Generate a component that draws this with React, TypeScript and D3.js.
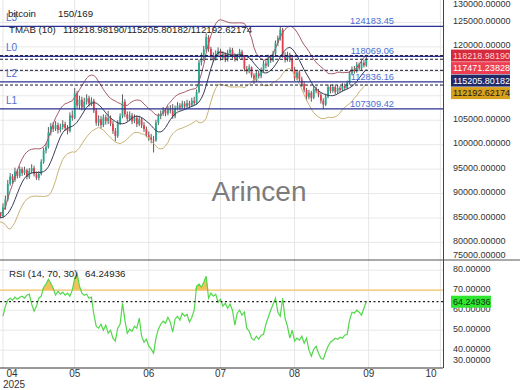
import React from "react";
import * as d3 from "d3";

// Daily bitcoin candles. Warm-up days (Mar 20-31) only feed the indicator.
const warmupClose = [84500, 85200, 84300, 83900, 84800, 85600, 84900, 85300, 84600, 85100, 85900, 85400];
const warmupHigh = [85600, 85900, 85500, 84800, 85300, 86300, 85900, 85800, 85400, 85700, 86600, 86200];
const warmupLow = [83800, 84100, 83700, 83200, 83600, 84500, 84400, 84500, 84000, 84200, 84800, 85000];

// Apr 1 .. Aug 31
const closes = [
    87200, 88800, 92000, 93500, 92800, 94500, 93600, 95000, 94200, 94800,
    93400, 94600, 95200, 94000, 93200, 94000, 96500, 98800, 99500, 102500,
    103800, 103200, 104000, 103000, 103600, 104200, 103400, 102800, 106000, 105500,
    110500, 108000, 109200, 107600, 108800, 109500, 108400, 109000, 107000, 104500,
    105200, 104000, 105600, 104800, 105500, 104300, 102800, 101800, 104500, 105800,
    108800, 106200, 105300, 106000, 104800, 105500, 104200, 105200, 104000, 103200,
    102000, 101500, 101000, 100900, 104500, 105800, 106300, 107000, 106400, 107200,
    107000, 105800, 107500, 108000, 107600, 108400, 107800, 108500, 108000, 109000,
    108500, 110800, 116800, 117500, 119500, 122000, 119600, 118000, 117600, 118600,
    119200, 117800, 118500, 117400, 118800, 119400, 118200, 117600, 118000, 119000,
    118000, 115500, 115000, 115800, 114200, 113200, 114600, 114000, 115200, 116600,
    116200, 117800, 117200, 118600, 120800, 121800, 123500, 118200, 117400, 118400,
    117600, 115400, 113600, 114800, 113400, 112400, 111200, 109800, 110600, 109600,
    111400, 111000, 110200, 109000, 108200, 109800, 111800, 111000, 111800, 110800,
    111600, 111200, 112000, 111600, 112600, 114600, 115400, 115000, 116400, 115600,
    116800, 116200, 117471.24,
];

const highs = [
    88000, 89600, 92800, 94200, 94000, 95300, 95000, 95600, 95400, 95500,
    95100, 95200, 96000, 95700, 94500, 94600, 97000, 99400, 100300, 103600,
    104400, 104600, 104800, 104500, 104300, 105000, 104700, 104000, 106600, 107000,
    111600, 111000, 110000, 109800, 109600, 110300, 110000, 109700, 109400, 107500,
    106000, 105900, 106200, 106100, 106900, 106000, 104900, 103400, 105000, 106400,
    110300, 109300, 106800, 106800, 106500, 106200, 106000, 105900, 105600, 104600,
    103700, 102700, 102200, 101800, 105100, 106400, 107000, 107700, 107500, 107900,
    108100, 108300, 108000, 108700, 108500, 109000, 108900, 109200, 109000, 109600,
    109800, 111300, 117400, 118800, 120200, 122800, 122400, 120000, 118900, 119300,
    119900, 119600, 119100, 118900, 119400, 119900, 119800, 118700, 118600, 119600,
    119400, 118300, 116100, 116400, 116000, 114600, 115100, 115200, 115800, 117200,
    117100, 118400, 118300, 119200, 121300, 122300, 124183.45, 123900, 118900, 119000,
    118800, 118000, 115900, 115300, 115200, 113900, 112900, 111600, 111200, 111000,
    112000, 111900, 111400, 110600, 109500, 110400, 112300, 112200, 112400, 112100,
    112200, 112000, 112600, 112500, 113100, 115100, 116000, 116100, 116900, 116800,
    117300, 117400, 117900,
];

const lows = [
    85000, 86700, 88400, 91600, 92000, 92400, 93100, 93200, 93600, 93800,
    92900, 93000, 94100, 93500, 92800, 92700, 93700, 96100, 98200, 99200,
    101900, 102600, 102800, 102300, 102500, 103100, 102800, 102100, 102500, 104900,
    105200, 107400, 107200, 107000, 107000, 108200, 107800, 107900, 106500, 103900,
    103800, 103300, 103600, 104100, 104200, 103800, 102200, 100700, 101400, 104000,
    105400, 105600, 104700, 104800, 104200, 104400, 103600, 103800, 103400, 102600,
    101500, 100800, 100300, 98400, 100600, 104000, 105200, 105900, 105800, 106000,
    106400, 105300, 105400, 107000, 107000, 107200, 107300, 107400, 107500, 107700,
    108000, 108200, 110500, 116200, 117100, 119000, 119000, 117200, 116900, 117200,
    118000, 117200, 117300, 116900, 117000, 118300, 117600, 117000, 117100, 117600,
    117400, 115000, 114400, 114600, 113700, 112400, 112800, 113500, 113600, 114800,
    115600, 115900, 116700, 116900, 118200, 120200, 121300, 117800, 116800, 117000,
    116900, 114900, 113000, 113200, 112900, 111800, 110700, 109000, 109300, 108800,
    109300, 110500, 109700, 108400, 107309.42, 107900, 109500, 110500, 110600, 110300,
    110400, 110700, 110900, 111100, 111300, 112300, 114200, 114500, 114700, 115100,
    115300, 115800, 115900,
];

const rsiValues = [
    57, 62, 65, 66, 65, 66.5, 65.5, 66.5, 67, 66,
    67.5, 68, 63, 59.5, 62, 66, 67, 71.5, 73, 75.5,
    73.5, 71, 67.5, 69.5, 68, 69, 67.5, 68.5, 67, 70,
    76, 78.5, 72, 68.5, 67.5, 68, 66, 66.5, 58, 52,
    51, 53, 50, 52.5, 48.5, 50, 46, 44.5, 51, 53,
    63.5, 55, 48.5, 50.5, 49.5, 52, 51, 56, 47, 44,
    45.5, 42, 40.5, 38.5, 46, 50.5, 53, 54.5, 53.5, 56.5,
    54, 49, 55.5, 57, 55, 58.5, 57, 58, 54, 56.5,
    60, 72, 73, 71.5, 74, 77, 66, 68.5, 67, 68,
    64, 65.5, 62, 63.5, 61, 63, 60, 52.5, 58.5, 60,
    57.5, 59, 51, 49.5, 46, 45, 47, 45.5, 47.5, 48,
    53, 56.5, 60, 63, 66, 59, 57, 66, 56, 52,
    46, 50, 44.5, 46, 45, 47, 43.5, 46, 40, 37,
    40.5, 42, 38.5, 36, 35.5, 39, 42, 44, 45, 46,
    45.5, 46.5, 46, 47.5, 48, 55, 59, 58.5, 60, 59,
    57.5, 61, 64.24936,
];

const levelNames = ["L3", "L0", "L2", "L1"];
const levelValues = [124183.45, 118069.06, 112836.16, 107309.42];

const tmaLast = [118218.98190, 115205.80182, 112192.62174];
const lastClose = 117471.23828;
const rsiLast = 64.24936;

const priceTicks = d3.range(75000, 130001, 5000);
const rsiTicks = [30, 40, 50, 60, 70, 80];

const W = 520;
const H = 390;
const plotRight = 443;
const mainBottom = 259.5;
const rsiTop = 260.5;
const rsiBottom = 368;
const font = "Liberation Sans, Arial, sans-serif";

const sma = (v: number[], p: number): number[] =>
    v.map((_, i) => d3.mean(v.slice(Math.max(0, i - p + 1), i + 1)) as number);

export default function App() {
    const x = d3.scaleUtc()
        .domain([new Date(Date.UTC(2025, 2, 30, 18)), new Date(Date.UTC(2025, 9, 2, 2))])
        .range([0, plotRight]);
    const y = d3.scaleLinear().domain([75000, 130000]).range([266.9, -2]);
    const yR = d3.scaleLinear().domain([30, 80]).range([370.2, 270.2]);

    const allClose = warmupClose.concat(closes);
    const allHigh = warmupHigh.concat(highs);
    const allLow = warmupLow.concat(lows);
    const dates = d3.utcDay.range(new Date(Date.UTC(2025, 2, 20)), new Date(Date.UTC(2025, 8, 1)));
    const rsiDates = dates.slice(warmupClose.length);

    const candles = dates.map((date, i) => {
        const c = allClose[i];
        const o = i ? allClose[i - 1] : c;
        return { date, o, c, h: Math.max(allHigh[i], o, c), l: Math.min(allLow[i], o, c) };
    });

    // TMA bands: triangular MA of closes, envelope from the rms deviation of close vs TMA
    const mid = sma(sma(allClose, 5), 6);
    const sq = allClose.map((c, i) => (c - mid[i]) ** 2);
    const dev = sma(sq, 20).map(Math.sqrt);
    const k = (tmaLast[0] - tmaLast[2]) / 2 / dev[dev.length - 1];
    const upper = mid.map((m, i) => m + k * dev[i]);
    const lower = mid.map((m, i) => m - k * dev[i]);

    const line = d3.line<number>().x((_, i) => x(dates[i])).y((v) => y(v));
    const rsiLine = d3.line<number>().x((_, i) => x(rsiDates[i])).y((v) => yR(v));
    const rsiArea = d3.area<number>()
        .x((_, i) => x(rsiDates[i]))
        .y0(yR(70))
        .y1((v) => yR(Math.max(v, 70)));

    const months = d3.utcMonth.range(new Date(Date.UTC(2025, 3, 1)), new Date(Date.UTC(2025, 9, 2)));
    const fmt = d3.format(".5f");

    // stacked price tags on the right axis
    const tags = [
        { v: tmaLast[0], bg: "#d52b3e", fg: "#ffd6d6" },
        { v: lastClose, bg: "#ee3f52", fg: "#ffffff" },
        { v: tmaLast[1], bg: "#1f2a66", fg: "#ffffff" },
        { v: tmaLast[2], bg: "#d8a01c", fg: "#1a1a1a" },
    ];
    let prev = -Infinity;
    const tagPos = tags.map((t) => {
        const cy = Math.max(y(t.v), prev + 12.5);
        prev = cy;
        return { ...t, cy };
    });

    const bodyW = 1.8;

    return (
        <svg width={W} height={H} style={{ position: "absolute", left: 0, top: 0, background: "#fff" }}
            fontFamily={font}>
            <defs>
                <clipPath id="mainClip"><rect x={0} y={0} width={plotRight} height={mainBottom} /></clipPath>
                <clipPath id="rsiClip"><rect x={0} y={rsiTop} width={plotRight} height={rsiBottom - rsiTop} /></clipPath>
            </defs>

            {/* grid */}
            {priceTicks.map((t) => (
                <line key={t} x1={0} x2={plotRight} y1={y(t)} y2={y(t)} stroke="#e8e8e8" clipPath="url(#mainClip)" />
            ))}
            {rsiTicks.map((t) => (
                <line key={t} x1={0} x2={plotRight} y1={yR(t)} y2={yR(t)} stroke="#e8e8e8" clipPath="url(#rsiClip)" />
            ))}
            {months.map((m) => (
                <line key={+m} x1={x(m)} x2={x(m)} y1={0} y2={rsiBottom} stroke="#e6e6e6" />
            ))}

            <text x={259} y={201} textAnchor="middle" fontSize={28} fill="#7c7c7c">Arincen</text>

            {/* candles */}
            <g clipPath="url(#mainClip)">
                {candles.map((c) => {
                    const cx = x(c.date);
                    const up = c.c >= c.o;
                    const top = y(Math.max(c.o, c.c));
                    const bot = y(Math.min(c.o, c.c));
                    return (
                        <g key={+c.date}>
                            <line x1={cx} x2={cx} y1={y(c.h)} y2={y(c.l)} stroke="#333" strokeWidth={0.8} />
                            <rect x={cx - bodyW / 2} y={top} width={bodyW} height={Math.max(bot - top, 0.8)}
                                fill={up ? "#22a98f" : "#e2404f"} />
                        </g>
                    );
                })}
                <path d={line(upper) ?? ""} fill="none" stroke="#a65c68" strokeWidth={1} />
                <path d={line(mid) ?? ""} fill="none" stroke="#3a3e58" strokeWidth={1} />
                <path d={line(lower) ?? ""} fill="none" stroke="#c9b274" strokeWidth={1} />

                {levelValues.map((v) => (
                    <line key={v} x1={0} x2={plotRight} y1={y(v)} y2={y(v)} stroke="#2a3192" strokeWidth={1.3} />
                ))}
                {[tmaLast[0], lastClose, tmaLast[1], tmaLast[2]].map((v) => (
                    <line key={v} x1={0} x2={plotRight} y1={y(v)} y2={y(v)} stroke="#1b1b33"
                        strokeWidth={1} strokeDasharray="3,2" />
                ))}
            </g>

            {levelValues.map((v, i) => (
                <g key={v} fill="#4c6dd2">
                    <text x={6} y={y(v) - 5} fontSize={10}>{levelNames[i]}</text>
                    <text x={394} y={y(v) - 2} textAnchor="end" fontSize={9.3}>{v.toFixed(2)}</text>
                </g>
            ))}

            {/* legend */}
            <g fontSize={9.7} fill="#222">
                <text x={8} y={16.5}>bitcoin</text>
                <text x={58} y={16.5}>150/169</text>
                <text x={9} y={32.5}>TMAB (10)</text>
                <text x={63} y={32.5}>{tmaLast.map((v) => v.toFixed(5)).join("/")}</text>
            </g>

            {/* RSI panel */}
            <g clipPath="url(#rsiClip)">
                <path d={rsiArea(rsiValues) ?? ""} fill="#f0b93f" fillOpacity={0.85} />
                <line x1={0} x2={plotRight} y1={yR(70)} y2={yR(70)} stroke="#f5c56e" strokeWidth={1.3} />
                <path d={rsiLine(rsiValues) ?? ""} fill="none" stroke="#52d84a" strokeWidth={1.2} />
                <line x1={0} x2={plotRight} y1={yR(rsiLast)} y2={yR(rsiLast)} stroke="#222"
                    strokeWidth={1.3} strokeDasharray="2,2.5" />
            </g>
            <g fontSize={9.7} fill="#222">
                <text x={9} y={277}>RSI (14, 70, 30)</text>
                <text x={85} y={277}>{rsiLast.toFixed(5)}</text>
            </g>

            {/* frames */}
            <line x1={0} x2={W} y1={260} y2={260} stroke="#555" strokeWidth={1} />
            <line x1={0} x2={plotRight} y1={rsiBottom} y2={rsiBottom} stroke="#333" strokeWidth={1} />
            <line x1={plotRight + 0.5} x2={plotRight + 0.5} y1={0} y2={rsiBottom} stroke="#444" strokeWidth={1} />

            {/* right axes */}
            <g fontSize={9} fill="#333">
                {priceTicks.map((t) => (
                    <text key={t} x={453} y={Math.min(Math.max(y(t) - 1.4, 3.5), 255)} dominantBaseline="central">
                        {fmt(t)}
                    </text>
                ))}
                {rsiTicks.map((t) => (
                    <text key={t} x={453} y={Math.min(yR(t) - 0.9, 360)} dominantBaseline="central">
                        {fmt(t)}
                    </text>
                ))}
            </g>

            {tagPos.map((t) => (
                <g key={t.v}>
                    <rect x={451} y={t.cy - 6} width={59} height={12} fill={t.bg} />
                    <text x={453} y={t.cy} dominantBaseline="central" fontSize={9} fill={t.fg}>{fmt(t.v)}</text>
                </g>
            ))}
            <rect x={451} y={yR(rsiLast) - 6} width={40} height={12} fill="#2ee62e" />
            <text x={453} y={yR(rsiLast)} dominantBaseline="central" fontSize={9} fill="#123312">{fmt(rsiLast)}</text>

            {/* time axis */}
            <g fontSize={10} fill="#333">
                {months.map((m) => (
                    <text key={+m} x={Math.min(Math.max(x(m), 12), 431)} y={377} textAnchor="middle">
                        {d3.utcFormat("%m")(m)}
                    </text>
                ))}
                <text x={14} y={388} textAnchor="middle">2025</text>
            </g>
        </svg>
    );
}
